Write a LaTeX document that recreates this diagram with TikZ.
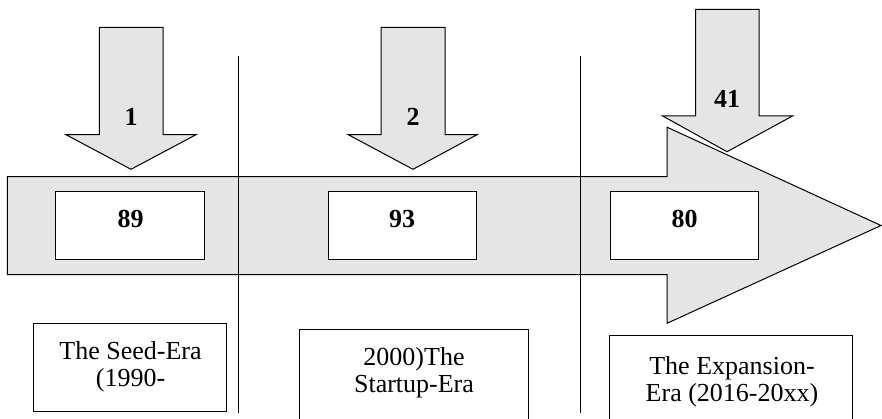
\documentclass[tikz,border=0pt]{standalone}
\usepackage{fontspec}
\setmainfont{Liberation Serif}
\tikzset{
  grayshape/.style={draw, line width=1pt, fill=gray!20, line join=miter},
  whitebox/.style={draw, line width=1pt, fill=white},
  divider/.style={draw, line width=0.8pt},
  num/.style={font=\fontsize{26}{27}\selectfont\bfseries, inner sep=0pt},
  eratext/.style={font=\fontsize{26}{27}\selectfont, align=center, inner sep=0pt, anchor=base},
}
\begin{document}
\begin{tikzpicture}[x=1pt,y=-1pt]
\useasboundingbox (0,0) rectangle (882,419);
\clip (0,0) rectangle (882,419);
% down arrows
\draw[grayshape] (99.3,27.3) -- (163,27.3) -- (163,134.7) -- (196,134.7) -- (131,169.3) -- (66,134.7) -- (99.3,134.7) -- cycle;
\draw[grayshape] (381,27.3) -- (445,27.3) -- (445,134.7) -- (477,134.7) -- (413,169.3) -- (348.3,134.7) -- (381,134.7) -- cycle;
\draw[grayshape] (695.5,9.3) -- (759,9.3) -- (759,116) -- (792.5,116) -- (727,151.7) -- (662.7,116) -- (695.5,116) -- cycle;
% big timeline arrow
\draw[grayshape] (7.3,176.7) -- (667,176.7) -- (667,127.2) -- (881,225.5) -- (667,323.3) -- (667,274.7) -- (7.3,274.7) -- cycle;
% dividers
\draw[divider] (238,56) -- (238,413);
\draw[divider] (580,56) -- (580,413);
% inner boxes
\draw[whitebox] (55.7,191.7) rectangle (204.3,259.7);
\draw[whitebox] (328,191.7) rectangle (476.3,259.7);
\draw[whitebox] (610,191.7) rectangle (758.3,259.7);
% era boxes
\draw[whitebox] (33.7,323.3) rectangle (226.3,411.7);
\draw[whitebox] (299.3,329) rectangle (528.7,440);
\draw[whitebox] (609.7,335.3) rectangle (852.2,440);
% numbers
\node[num] (n1) at (131,117) {1};
\node[num] (n2) at (413,117) {2};
\node[num] (n41) at (727,98.5) {41};
\node[num] (n89) at (130.5,219) {89};
\node[num] (n93) at (402,219) {93};
\node[num] (n80) at (684.5,219) {80};
% era texts
\node[eratext] (e1) at (130.5,386.5) {The Seed-Era\\(1990-};
\node[eratext] (e2) at (414,392) {2000)The\\Startup-Era};
\node[eratext] (e3) at (732,401.3) {The Expansion-\\Era (2016-20xx)};
\end{tikzpicture}
\end{document}
